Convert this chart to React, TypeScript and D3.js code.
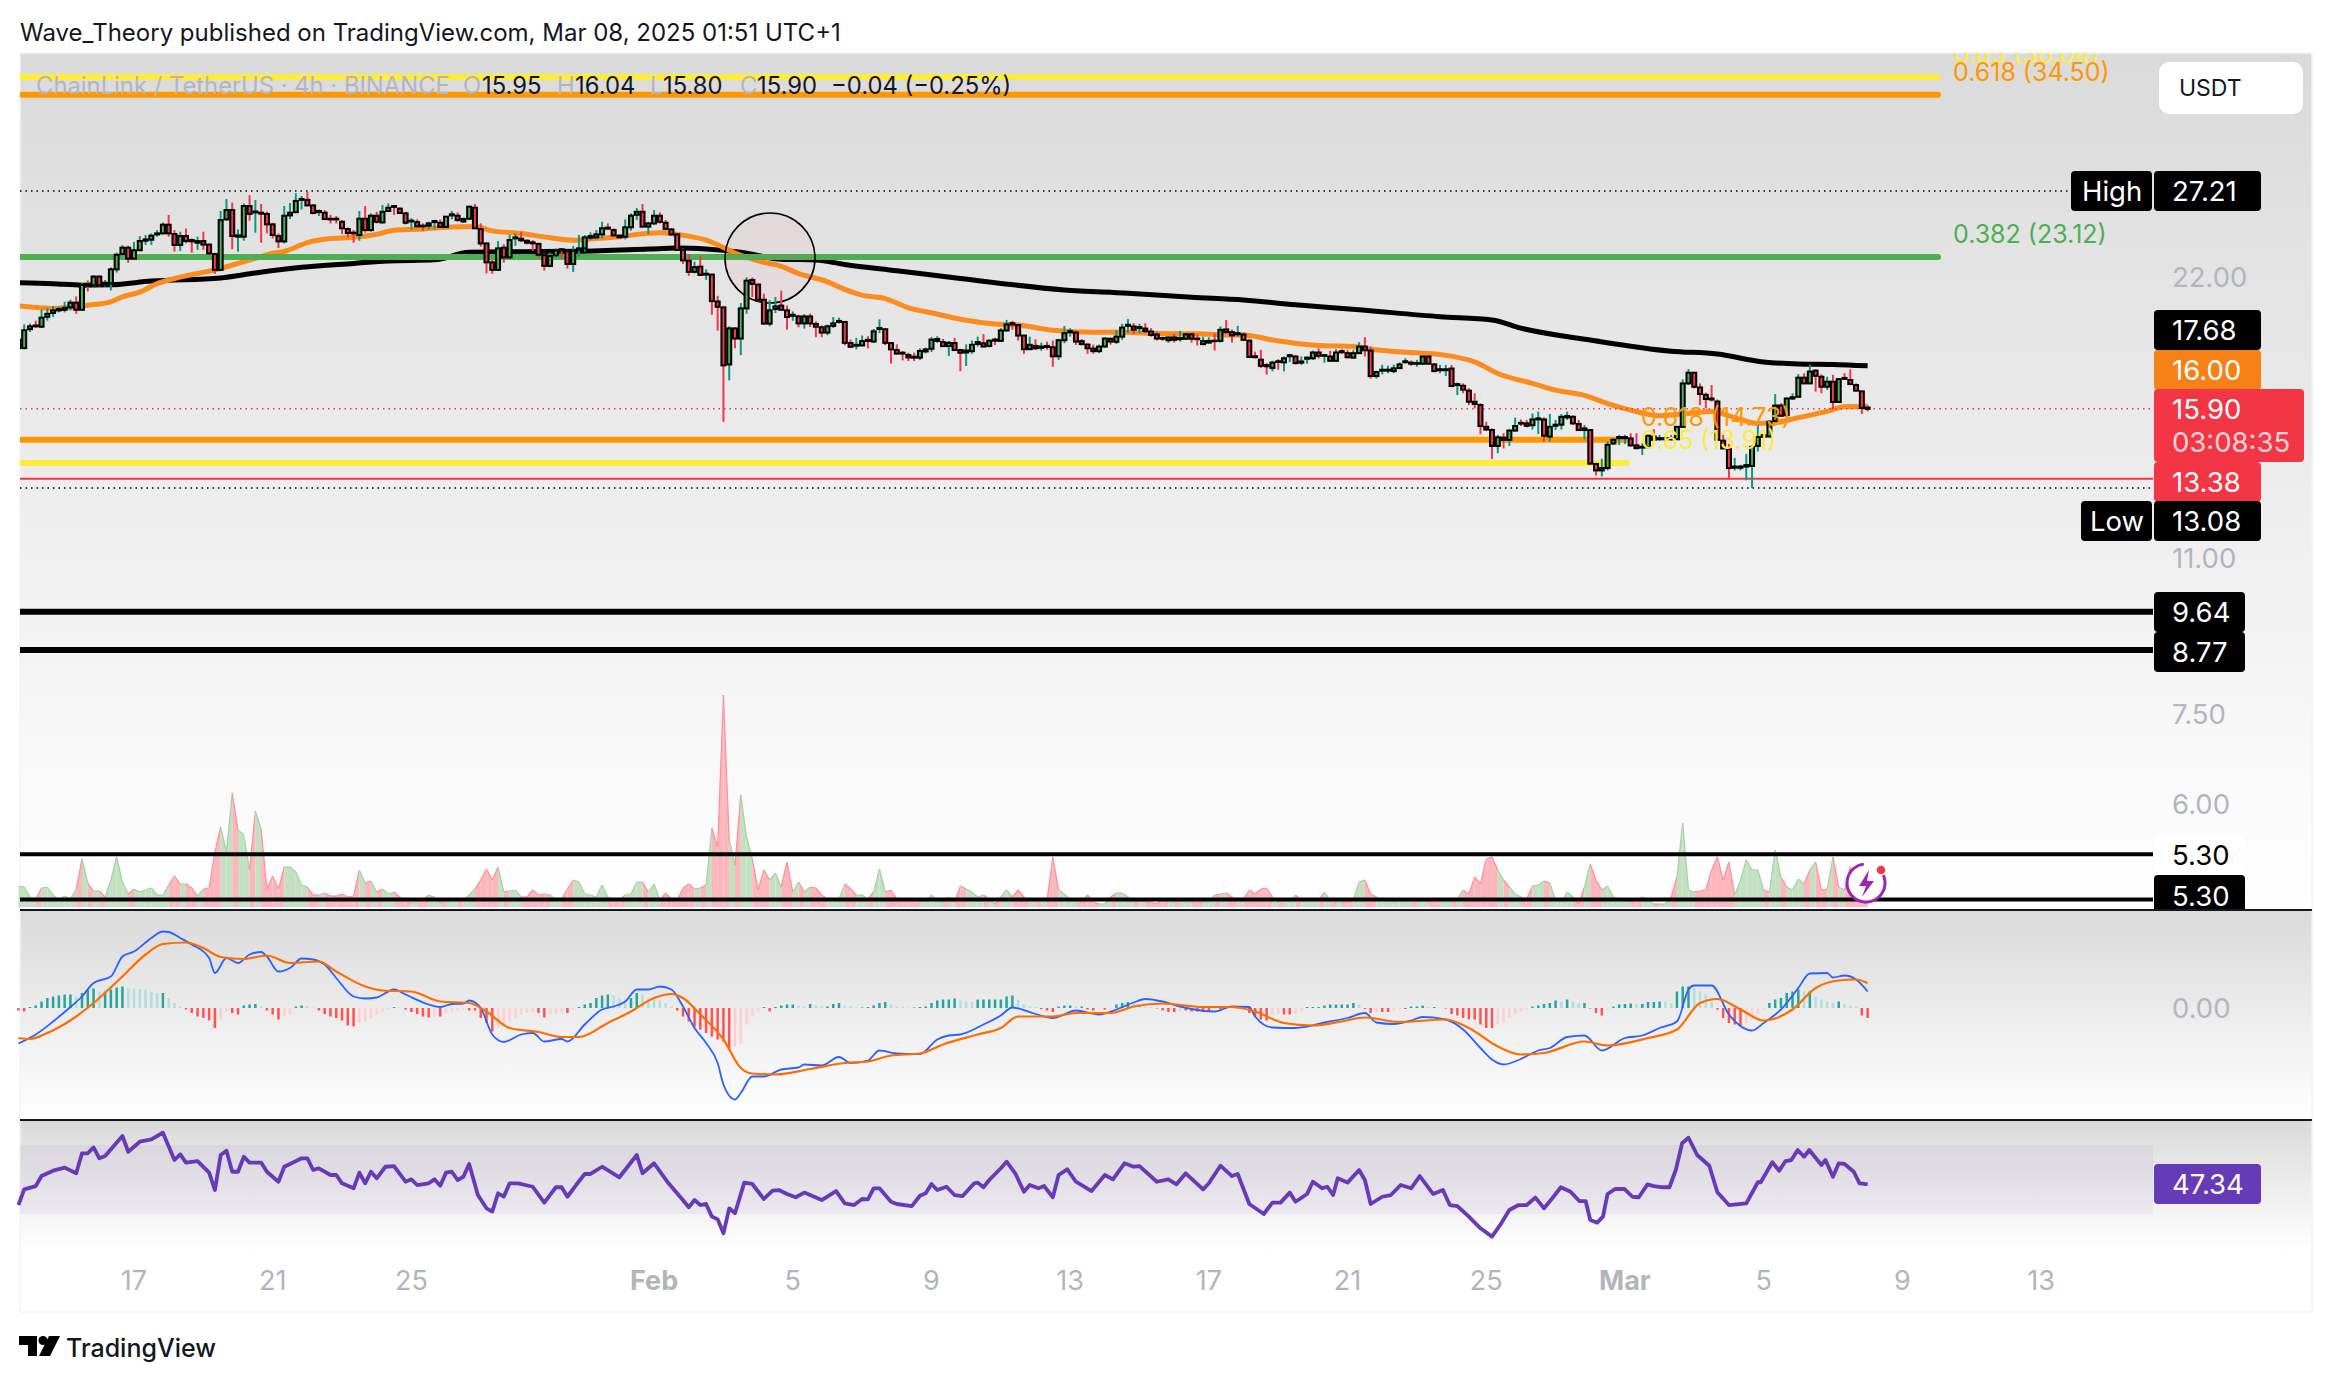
import * as d3 from "d3";

// LINK/USDT 4h, values
const START = Date.UTC(2025, 0, 13, 16); // first visible candle
const FOUR_HOURS = 4 * 3600 * 1000;

// [open, high, low, close]
const janCandles = [
  [18.47,18.94,18.41,18.86],[18.47,19.58,18.41,19.30],[19.35,19.62,19.22,19.49],[19.53,19.76,19.41,19.49],[19.47,20.30,19.41,19.91],
  [19.95,20.38,19.76,20.10],[20.14,20.50,19.94,20.27],[20.27,20.47,20.17,20.34],[20.30,20.71,20.17,20.40],[20.42,20.81,20.27,20.66],
  [20.66,20.98,20.10,20.30],[20.30,21.70,20.27,21.58],[21.62,21.82,21.24,21.53],[21.56,22.12,21.46,22.03],[22.03,22.12,21.46,21.56],
  [21.60,21.85,21.50,21.70],[21.67,22.54,21.29,22.43],[22.43,23.37,22.25,23.25],[23.29,23.81,23.23,23.66],[23.66,23.78,22.80,23.03],
  [23.03,23.99,22.99,23.51],[23.51,24.35,23.47,24.05],[24.07,24.41,23.82,24.15],[24.13,24.51,23.82,24.37],[24.45,24.71,24.31,24.51],
  [24.51,25.18,24.45,25.04],[25.04,25.65,24.31,24.51],[24.47,24.71,23.43,23.82],[23.82,24.61,23.47,24.35],[24.35,24.81,23.91,24.05],
  [24.11,24.21,23.37,24.03],[23.95,24.31,23.53,24.05],[24.05,24.61,23.53,23.84],[23.84,23.91,23.23,23.33],[23.29,23.37,22.18,22.40],
  [22.40,25.90,22.36,25.33],[25.37,26.68,25.29,25.96],[25.96,26.45,23.57,24.35],[24.31,24.75,23.43,24.39],[24.31,26.39,24.07,26.22],
  [26.22,26.93,25.29,25.71],[25.81,26.61,24.55,25.87],[25.79,26.35,23.95,25.73],[25.71,25.87,24.51,25.06],[25.06,25.16,24.21,24.41],
  [24.35,24.51,23.64,24.03],[24.03,26.22,23.91,25.60],[25.62,26.41,25.39,25.79],[25.83,27.06,25.75,26.55],[26.62,26.88,26.00,26.68],
  [26.62,27.17,26.22,26.26],[26.26,26.35,25.69,25.77],[25.83,26.00,25.58,25.90],[25.79,25.96,25.33,25.39],[25.41,25.65,25.12,25.37],
  [25.41,25.58,25.12,25.37],[25.22,25.33,24.47,24.82],[24.77,24.86,24.27,24.53],[24.55,24.71,23.95,24.51],[24.41,25.90,24.07,25.41],
  [25.41,26.22,24.55,24.71],[24.71,25.75,24.61,25.60],[25.60,25.85,25.12,25.22],[25.18,26.28,25.12,25.85],[25.90,26.39,25.83,26.11],
  [26.22,26.28,25.65,26.16],[26.05,26.13,25.71,25.77],[25.75,25.85,25.06,25.16],[25.24,25.44,24.75,25.29],[25.20,25.37,24.86,24.94],
  [24.98,25.12,24.67,24.94],[24.98,25.22,24.75,25.12],[25.20,25.33,24.75,25.27],[25.16,25.37,24.86,24.90],[24.90,25.58,24.86,25.54],
  [25.62,25.90,25.37,25.69],[25.60,25.81,25.22,25.33],[25.24,25.49,25.16,25.39],[25.41,26.22,25.33,26.18],[26.11,26.35,24.80,24.82],
  [24.77,25.12,23.72,23.91],[23.91,23.97,22.21,22.82],[22.82,22.95,22.18,22.40],[22.40,24.05,22.36,23.62],[23.66,23.86,22.80,23.10],
  [23.10,24.41,23.05,24.11],[24.21,24.51,23.76,24.27],[24.19,24.61,23.99,24.09],[24.07,24.15,23.86,23.95],[23.97,24.11,23.47,23.91],
  [23.88,23.95,23.10,23.25],[23.23,23.33,22.36,22.62],[22.62,23.37,22.55,23.18],[23.22,23.62,23.09,23.49],[23.57,23.64,23.03,23.51],
  [23.45,23.53,22.47,22.73],[22.73,23.76,22.29,23.49],[23.53,24.41,23.14,23.62],[23.62,24.41,23.43,24.27],[24.25,24.57,24.11,24.35],
  [24.27,24.71,24.15,24.45],[24.45,25.22,24.19,24.82],[24.86,25.12,24.71,24.80],[24.71,24.82,24.31,24.39],[24.37,24.45,24.21,24.27],
  [24.31,25.37,24.15,24.88],[24.88,25.75,24.67,25.60],[25.66,26.09,25.33,25.85],[25.85,26.35,24.88,24.92],[24.92,25.22,24.47,25.12],
];
const febCandles = [
  [25.12,25.96,25.02,25.60],[25.60,25.81,25.12,25.22],[25.16,25.33,24.71,24.77],[24.75,24.82,24.35,24.45],[24.45,24.51,23.49,23.53],
  [23.53,23.62,22.73,22.93],[22.91,23.29,22.07,22.29],[22.29,22.86,22.21,22.55],[22.58,23.18,22.07,22.12],[22.14,22.43,21.85,22.19],
  [22.14,22.18,20.05,20.74],[20.72,21.01,19.28,20.45],[20.42,20.47,15.40,17.70],[17.74,19.49,17.06,19.39],[19.39,19.43,18.46,18.91],
  [18.91,20.64,18.15,20.37],[20.37,21.99,20.10,21.81],[21.85,21.99,20.95,21.64],[21.60,21.67,20.72,20.81],[20.81,21.12,19.57,19.62],
  [19.62,20.78,19.49,20.27],[20.34,20.95,20.14,20.47],[20.51,21.28,20.27,20.30],[20.27,20.51,19.33,19.94],[20.00,20.22,19.76,20.05],
  [19.97,20.05,19.44,19.63],[19.63,20.08,19.38,19.97],[19.97,20.11,19.46,19.63],[19.60,19.73,18.97,19.47],[19.44,19.54,18.97,19.19],
  [19.19,19.57,19.07,19.49],[19.51,19.94,19.41,19.63],[19.70,19.91,19.62,19.75],[19.70,19.75,18.59,18.71],[18.70,18.86,18.49,18.53],
  [18.58,18.94,18.41,18.62],[18.59,19.05,18.56,18.79],[18.85,19.02,18.46,18.80],[18.77,19.36,18.71,19.25],[19.36,19.83,19.17,19.41],
  [19.35,19.38,18.60,18.71],[18.70,18.74,17.78,18.41],[18.38,18.64,18.19,18.22],[18.26,18.34,17.92,18.22],[18.16,18.26,17.89,18.05],
  [18.08,18.26,17.89,18.04],[18.04,18.46,17.93,18.34],[18.32,18.49,18.23,18.41],[18.44,18.99,18.29,18.86],[18.80,19.02,18.71,18.89],
  [18.74,18.89,18.52,18.56],[18.56,18.80,18.11,18.71],[18.70,18.94,18.34,18.38],[18.38,18.44,17.44,18.26],[18.27,18.64,17.67,18.36],
  [18.33,18.82,18.21,18.62],[18.66,19.00,18.54,18.75],[18.69,19.12,18.51,18.54],[18.57,18.88,18.50,18.81],[18.86,18.95,18.61,18.81],
  [18.80,19.40,18.77,19.29],[19.29,19.80,19.24,19.58],[19.64,19.75,19.32,19.58],[19.55,19.60,18.82,19.05],[19.05,19.08,18.21,18.42],
  [18.42,19.00,18.39,18.62],[18.57,18.88,18.39,18.46],[18.48,18.72,18.35,18.54],[18.57,18.77,18.39,18.52],[18.51,18.82,17.64,18.10],
  [18.10,18.90,17.94,18.83],[18.83,19.51,18.69,19.16],[19.21,19.40,19.00,19.26],[19.19,19.29,18.61,18.77],[18.79,18.88,18.60,18.65],
  [18.63,18.69,18.21,18.46],[18.45,18.63,18.21,18.33],[18.33,18.63,18.24,18.54],[18.54,18.96,18.50,18.91],[18.90,18.96,18.63,18.77],
  [18.76,19.32,18.66,19.00],[19.00,19.61,18.85,19.43],[19.51,19.85,19.19,19.56],[19.48,19.64,19.13,19.33],[19.40,19.61,19.16,19.45],
  [19.38,19.64,19.16,19.26],[19.24,19.40,19.00,19.08],[19.10,19.24,18.82,18.91],[18.93,19.00,18.80,18.90],[18.83,19.00,18.71,18.96],
  [18.96,19.13,18.72,18.85],[18.88,19.27,18.77,18.93],[18.90,19.16,18.85,19.11],[19.11,19.16,18.72,18.90],[18.91,19.13,18.59,18.88],
  [18.65,19.00,18.62,18.79],[18.72,18.97,18.69,18.80],[18.81,19.16,18.36,18.79],[18.80,19.48,18.72,19.32],[19.34,19.80,19.16,19.21],
  [19.21,19.34,18.72,19.06],[19.11,19.51,19.00,19.16],[19.10,19.19,18.80,18.85],[18.81,18.90,18.04,18.07],[18.10,18.31,18.00,18.06],
  [17.95,18.39,17.58,17.68],[17.71,17.80,17.30,17.66],[17.59,17.90,17.44,17.82],[17.88,17.97,17.51,17.85],[17.83,18.09,17.44,18.01],
  [18.10,18.19,17.84,18.15],[18.09,18.16,17.74,17.80],[17.82,18.09,17.72,17.87],[17.99,18.09,17.77,18.04],[18.01,18.36,17.94,18.27],
  [18.27,18.46,18.00,18.12],[18.12,18.21,17.82,18.15],[18.09,18.35,17.87,17.90],[17.90,18.42,17.85,18.27],[18.33,18.42,18.21,18.28],
  [18.24,18.39,18.00,18.06],[18.04,18.39,18.00,18.24],[18.24,18.74,18.21,18.54],[18.54,18.97,18.09,18.37],[18.36,18.54,17.13,17.24],
  [17.24,17.47,17.13,17.41],[17.47,17.73,17.31,17.51],[17.47,17.69,17.36,17.51],[17.45,17.73,17.36,17.57],[17.58,17.83,17.54,17.74],
  [17.84,18.01,17.77,17.88],[17.82,17.91,17.68,17.77],[17.77,17.94,17.64,17.80],[17.77,18.12,17.74,18.09],[18.09,18.12,17.74,17.77],
  [17.74,17.80,17.42,17.45],[17.49,17.72,17.36,17.53],[17.49,17.72,17.24,17.53],[17.56,17.72,16.79,16.82],[16.86,16.96,16.45,16.90],
  [16.83,16.93,16.52,16.67],[16.63,16.73,16.05,16.18],[16.18,16.52,15.92,16.09],[16.05,16.12,14.93,15.24],[15.21,15.40,15.06,15.11],
  [15.09,15.15,14.05,14.51],[14.51,14.91,14.25,14.82],[14.81,14.97,14.42,14.73],[14.73,15.12,14.51,15.07],[15.07,15.56,15.03,15.24],
  [15.36,15.49,15.24,15.33],[15.34,15.47,15.19,15.25],[15.27,15.72,15.11,15.49],[15.49,15.79,14.94,15.53],[15.49,15.57,14.67,14.88],
  [14.85,15.70,14.67,15.21],[15.25,15.47,15.09,15.29],[15.29,15.70,15.11,15.59],
];
const marCandles = [
  [15.57,15.79,15.47,15.62],[15.59,15.65,15.28,15.34],[15.32,15.47,15.06,15.09],[15.09,15.28,14.75,15.15],[15.09,15.12,13.85,13.89],
  [13.88,13.91,13.49,13.66],[13.66,14.06,13.46,13.74],[13.74,14.67,13.66,14.55],[14.60,14.79,14.54,14.73],[14.79,14.91,14.54,14.83],
  [14.79,14.91,14.58,14.83],[14.78,14.97,14.48,14.53],[14.53,14.97,14.39,14.43],[14.45,14.60,14.19,14.48],[14.46,14.91,14.45,14.88],
  [14.85,15.12,14.70,14.73],[14.75,14.91,14.70,14.79],[14.75,14.85,14.70,14.79],[14.79,14.91,14.70,14.75],[14.75,15.24,14.73,15.21],
  [15.21,17.10,15.19,16.93],[16.93,17.54,16.86,17.38],[17.38,17.42,16.72,16.79],[16.76,16.93,16.05,16.49],[16.46,16.55,15.92,16.29],
  [16.31,16.86,16.19,16.27],[16.19,16.27,14.70,14.73],[14.70,14.91,14.40,14.42],[14.41,14.58,13.38,13.74],[13.75,14.09,13.66,13.79],
  [13.75,13.85,13.66,13.79],[13.79,14.23,13.33,13.84],[13.81,14.51,13.08,14.48],[14.51,15.34,14.31,14.83],[14.90,14.95,14.79,14.84],
  [14.85,15.47,14.83,15.40],[15.43,16.49,15.40,16.03],[16.03,16.12,15.59,15.63],[15.65,16.36,15.57,16.31],[16.31,16.52,16.25,16.36],
  [16.38,17.32,16.36,17.17],[17.17,17.36,16.90,16.93],[16.93,17.72,16.90,17.43],
];
const latestCandles = [
  [17.47,17.53,16.59,17.25],[17.21,17.31,16.52,16.79],[16.79,17.21,16.66,17.00],[17.00,17.29,15.88,16.17],[16.17,17.14,16.14,17.11],
  [17.16,17.36,17.08,17.12],[17.07,17.53,16.87,16.90],[16.86,16.93,16.60,16.63],[16.60,16.63,15.70,15.93],[15.95,16.04,15.80,15.90],
];

// volume in 10k LINK
const volumes = [
  21,20,10,8,19,20,12,7,11,8, 18,48,24,16,16,10,27,50,25,13, 18,15,17,19,12,12,22,31,23,23,
  19,11,18,19,55,80,55,114,77,72, 37,96,78,18,31,18,40,40,35,22, 20,12,12,14,11,11,13,10,11,37,
  24,26,15,18,13,15,10,7,4,6, 7,12,10,4,8,7,7,7,12,18, 27,38,27,40,15,16,17,10,10,17,
  12,13,12,7,8,18,27,25,13,12, 10,22,10,7,7,12,13,25,25,15, 23,7,14,8,7,19,23,18,19,22,
  79,60,212,67,42,112,70,48,17,37, 27,34,20,45,15,25,15,20,19,12, 8,8,8,23,18,12,12,8,15,38,
  15,17,8,7,7,7,6,5,12,5, 5,10,5,21,18,15,10,12,8,3, 10,17,10,17,10,7,7,8,7,50,
  17,13,7,7,5,12,5,3,3,10, 14,14,10,5,7,5,5,3,8,5, 5,7,5,5,5,5,5,12,13,14,
  10,7,8,17,13,18,19,10,5,7, 5,12,7,7,8,7,15,7,5,5, 5,7,25,27,13,10,7,7,5,7,
  5,8,5,7,5,8,8,5,5,8, 17,13,30,23,48,50,37,27,20,13, 10,8,21,22,26,24,7,5,15,10,
  3,20,43,27,17,21,10,8,6,5, 7,10,7,3,3,3,10,30,84,17, 15,16,17,37,50,27,45,12,27,47,
  37,37,17,15,57,30,20,17,28,23, 37,45,17,18,50,20,17,40,13,5, 3,
];

// [candle index, value]
const fastMa = [
  [0,20.5],[6,20.37],[12,20.53],[16,20.7],[18,20.96],[21,21.2],[24,21.65],[28,22],[34,22.4],[38,22.76],[41,23.05],[44,23.34],[46,23.44],[50,23.96],
  [54,24.2],[58,24.27],[62,24.45],[65,24.7],[69,24.76],[75,24.9],[79,24.93],[82,24.66],[87,24.5],[91,24.3],[96,24.1],[100,24.2],[104,24.3],[107,24.45],
  [111,24.55],[115,24.4],[119,24.1],[121,23.83],[124,23.35],[128,22.9],[132,22.6],[135,22.2],[140,21.75],[143,21.35],[146,21.05],[150,20.87],[154,20.4],
  [158,20.15],[163,19.83],[169,19.6],[173,19.55],[179,19.3],[186,19.2],[191,19.2],[197,19.15],[204,19.13],[209,19.08],[212,19.08],[217,18.84],[222,18.66],
  [226,18.58],[231,18.54],[234,18.42],[239,18.3],[246,18.18],[252,17.85],[256,17.35],[262,16.93],[266,16.65],[271,16.44],[275,16.11],[279,15.85],[284,15.63],
  [289,15.72],[293,15.8],[297,15.56],[301,15.34],[304,15.37],[308,15.56],[313,15.8],[316,15.98],[320,16.0],
];
const slowMa = [
  [0,21.7],[6,21.65],[11,21.57],[16,21.59],[23,21.79],[35,21.96],[41,22.23],[49,22.54],[58,22.76],[64,22.9],[72,22.96],[78,23.4],[88,23.43],[97,23.45],
  [109,23.58],[114,23.64],[119,23.58],[125,23.39],[132,23],[138,22.95],[143,22.7],[152,22.35],[163,21.93],[181,21.32],[192,21.15],[203,20.94],[212,20.8],
  [221,20.55],[232,20.3],[246,19.96],[255,19.8],[260,19.4],[272,18.84],[286,18.33],[294,18.2],[302,17.85],[308,17.76],[314,17.74],[320,17.68],
];
const macdLine = [
  [0,-.71],[3,-.53],[6,-.27],[9,.02],[11,.23],[13,.5],[16,.63],[18,1.03],[20,1.13],[23,1.4],[25,1.53],[26,1.52],[28,1.4],[30,1.27],[33,1],[34,.7],[36,1],[38,.9],
  [40,1.07],[42,1.12],[43,1.03],[45,.73],[47,.8],[49,.99],[51,.97],[53,.87],[55,.6],[58,.23],[60,.19],[62,.21],[65,.37],[67,.27],[71,.07],[73,.02],[75,.08],
  [77,.09],[78,.15],[80,0],[82,-.53],[84,-.68],[87,-.53],[89,-.5],[91,-.67],[94,-.62],[95,-.67],[98,-.33],[101,-.03],[103,.03],[105,.13],[107,.37],[109,.37],
  [111,.43],[113,.37],[115,.03],[117,-.4],[119,-.7],[121,-1.1],[122,-1.53],[124,-1.83],[125,-1.7],[127,-1.37],[129,-1.37],[132,-1.23],[135,-1.19],[136,-1.13],
  [139,-1.15],[142,-.98],[144,-1.1],[147,-1.05],[149,-.85],[152,-.91],[156,-.92],[159,-.63],[161,-.55],[163,-.53],[167,-.33],[170,-.15],[172,.01],[176,-.12],
  [179,-.2],[183,-.05],[187,-.13],[190,-.03],[193,.11],[195,.18],[198,.13],[201,.03],[207,-.07],[210,.03],[213,.02],[214,-.17],[217,-.39],[221,-.4],[223,-.37],
  [226,-.29],[230,-.2],[233,-.1],[235,-.29],[238,-.32],[241,-.25],[243,-.18],[247,-.23],[250,-.43],[253,-.8],[255,-1.03],[257,-1.13],[260,-1.02],[263,-.85],
  [265,-.8],[268,-.58],[271,-.55],[274,-.85],[278,-.6],[281,-.55],[284,-.4],[287,-.27],[289,.37],[290,.45],[293,.45],[296,-.13],[300,-.45],[302,-.3],[305,-.03],
  [308,.4],[310,.69],[313,.7],[314,.61],[316,.65],[318,.57],[320,.33],
];
const signalLine = [
  [0,-.6],[2,-.62],[5,-.5],[10,-.17],[13,.1],[18,.63],[22,1.07],[25,1.28],[29,1.31],[32,1.2],[35,1.02],[39,.98],[43,1.05],[47,.9],[52,.93],[55,.73],[60,.43],
  [63,.35],[68,.33],[73,.13],[78,.1],[81,-.07],[85,-.4],[90,-.48],[94,-.58],[97,-.58],[102,-.3],[106,-.07],[110,.2],[113,.28],[115,.2],[118,-.13],[122,-.63],
  [125,-1.2],[127,-1.31],[131,-1.33],[137,-1.22],[143,-1.1],[147,-1.07],[151,-.95],[156,-.91],[160,-.73],[166,-.53],[170,-.4],[173,-.17],[179,-.17],[183,-.1],
  [189,-.1],[193,.03],[198,.09],[205,.02],[210,.02],[214,-.07],[219,-.3],[224,-.35],[229,-.27],[233,-.19],[239,-.28],[247,-.23],[251,-.4],[256,-.77],[260,-.93],
  [264,-.9],[271,-.67],[275,-.75],[282,-.6],[287,-.43],[291,.1],[294,.18],[298,-.03],[302,-.25],[307,-.03],[311,.4],[315,.55],[318,.57],[320,.5],
];
const macdHist = [
  -.05,-.07,.02,.05,.13,.2,.23,.25,.27,.27,.23,.3,.37,.39,.33,.33,.37,.41,.43,.4,.39,.38,.37,.33,.3,.3,.2,.1,.03,-.03,-.1,-.17,-.2,-.25,-.4,-.23,-.07,-.1,-.13,
  .05,.07,.08,.03,-.05,-.13,-.23,-.17,-.13,.03,.05,.04,.01,-.05,-.12,-.17,-.2,-.25,-.35,-.37,-.3,-.27,-.2,-.13,-.08,-.03,.02,.01,-.03,-.08,-.12,-.17,-.19,-.17,-.17,
  -.1,-.07,-.05,-.03,-.05,-.05,-.2,-.3,-.47,-.4,-.37,-.27,-.2,-.13,-.1,-.08,-.1,-.19,-.13,-.12,-.1,-.1,-.03,.02,.07,.1,.2,.25,.27,.25,.2,.17,.2,.3,.27,.2,.17,.15,.1,
  .03,-.05,-.17,-.27,-.37,-.43,-.5,-.57,-.63,-.67,-.83,-.77,-.73,-.33,-.17,-.07,.02,-.07,.02,.05,.07,.07,.05,.03,.08,.05,.03,.03,.08,.1,.05,.03,.01,.01,.02,.05,.1,.12,
  .07,.03,.02,.01,.01,.02,.03,.1,.15,.17,.17,.19,.15,.13,.12,.17,.17,.17,.17,.17,
  .23,.25,.17,.08,.04,.02,-.02,-.05,-.08,.03,.05,.05,.03,.03,-.03,-.05,-.03,-.03,-.02,.07,.1,.12,.08,.05,.03,.02,-.01,-.05,-.08,-.08,-.05,-.05,-.07,-.07,-.08,-.08,
  -.02,-.03,-.02,0,-.01,-.02,-.1,-.17,-.23,-.25,-.13,-.12,-.13,-.13,-.12,-.07,.02,.02,.02,.05,.07,.07,.07,.07,.1,.07,-.02,-.1,-.08,-.08,-.08,-.05,-.02,-.02,.03,.03,.05,
  .02,.02,.01,-.01,-.12,-.15,-.2,-.23,-.23,-.33,-.4,-.4,-.33,-.3,-.2,-.13,-.07,-.02,.03,.05,.08,.1,.15,.13,.17,.13,.1,.1,-.01,-.1,-.15,-.03,.03,.07,.08,.09,.08,.08,.12,
  .12,.13,.12,.1,.33,.43,.43,.4,.33,.27,.13,-.03,-.2,-.3,-.33,-.37,-.3,-.23,-.13,-.03,.1,.17,.2,.3,.33,.37,.33,.33,.23,.17,.13,.1,.13,.08,.05,.03,-.15,-.2,
];
const rsiLine = [
  [0,35.2],[1,44.3],[3,46.2],[4,52],[6,55.1],[8,56.9],[10,53.6],[11,65.2],[12,65.2],[13,68.6],[14,62.3],[15,63.6],[18,75.2],[19,66.1],[21,71.9],[23,73.3],[25,77.1],
  [27,61.3],[28,64.6],[29,59.8],[31,60.7],[33,54],[34,43.9],[35,64.2],[36,66.7],[37,54.5],[38,54.5],[39,63.2],[40,59.8],[42,59.8],[43,54.5],[45,48.7],[46,57.4],[47,59],
  [49,62.3],[50,62.3],[51,55.5],[52,56.5],[54,52.6],[55,52.6],[56,47.8],[58,44.9],[59,54],[60,47.8],[61,54.5],[62,50.7],[63.5,57.4],[65,57.8],[67,48.7],[68,50.1],[69,46.8],
  [71,47.8],[72,50.1],[73,46.4],[74,54],[75,54.5],[76,49.7],[77,51.6],[78,59],[79.5,41],[81,33.3],[82,31.4],[83,42],[84,40.1],[85,47.8],[86.5,47.8],[89,45.8],[91,36.6],[93,45.5],
  [94,45.5],[95,40],[96.5,46.8],[98,53.2],[99,53.2],[101,57.4],[104,51.3],[107,64.2],[108,53.6],[110,59.4],[112.5,47.8],[114.5,40],[116,33.9],[117,38.1],[118,35.2],[119,35.8],
  [120,28.5],[121,26.9],[122,18.8],[123,33.3],[124,30.4],[125.6,48.2],[127,47.4],[129,38.7],[130.5,43.5],[131.6,43.9],[133,41.6],[134.5,39.7],[136,42.4],[139,38.1],[141.5,43.3],
  [143,36.2],[144.6,35.2],[146,38.7],[147,38.5],[148,44.9],[149,44.9],[151,37.1],[152,35.8],[154.6,34.6],[156,40.6],[157,42],[158,47.4],[159,43.9],[160.6,45.8],[162,41],[163.4,40.4],
  [165.4,47.8],[166,48.2],[167,45.5],[168,49.7],[170,56.5],[171,60.3],[172.5,53.6],[174,42.9],[175,46.8],[176.5,44.9],[177.5,46.2],[179,39.7],[180,52.6],[181.5,55.9],[183,48.7],
  [185.7,43.3],[188,52.6],[189.4,50.1],[191.4,59.4],[193,57.4],[194,57.8],[197,48.7],[199,50.1],[200.4,47.2],[202,53.6],[205,44.3],[206,47.8],[208,58],[210,52],[211,53.2],[213,35.8],
  [215.5,30],[217,36.6],[218.4,36.6],[220,42.4],[221,37.1],[223,41.6],[224,48.7],[225.6,44.9],[226.5,45.8],[227.5,41],[228.3,50.7],[230,48.2],[232,55.5],[233,49.7],[234,35.8],[236,40],
  [237.5,41],[239.2,46.8],[241,44.9],[242.5,52],[244.8,41.6],[246.5,43.9],[247.7,35.2],[249,34.6],[251,28.5],[253,21.7],[255,16.9],[256.6,24.6],[258,32.3],[259.6,35.2],[261,35.2],
  [262.5,39.5],[264,33.3],[265.4,39],[266.9,45.5],[268.6,42.9],[270.1,37.5],[271.2,37.5],[272,26.5],[273.2,25],[274.2,28.5],[275,41.6],[276.3,44.5],[277.9,44.5],[279.3,40],[280.4,39.7],
  [281.9,47.2],[283,46.2],[284.5,45.5],[285.7,45.5],[286.8,55.5],[287.9,71],[289,74.2],[290.5,64.2],[292.6,58],[294,42.6],[296,35.2],[299,36.2],[301,48.4],[301.5,48.4],[303.5,60],
  [304.7,55.1],[305.8,60.7],[306.8,61.3],[307.9,67.1],[309,63.2],[309.9,67.1],[312,58.4],[312.7,61.3],[314,51.6],[315,59.4],[316,59],[317.6,54.5],[318.6,47.8],[319.5,47.4],[320,47.34],
];

const fibLevels = [
  { ratio: "0.65", price: 36.04, color: "#ffeb3b", end: 1938 },
  { ratio: "0.618", price: 34.5, color: "#ff9800", end: 1938 },
  { ratio: "0.382", price: 23.12, color: "#4caf50", end: 1938 },
  { ratio: "0.618", price: 14.73, color: "#ff9800", end: 1627 },
  { ratio: "0.65", price: 13.91, color: "#ffeb3b", end: 1627 },
];
const levelLines = [9.64, 8.77];
const volumeLevels = [5.3, 4.74];
const axisPrices = [22, 11, 7.5, 6];
const tickDates = [[0,17],[0,21],[0,25],[1,1],[1,5],[1,9],[1,13],[1,17],[1,21],[1,25],[2,1],[2,5],[2,9],[2,13]];
const tickLabels = ["17","21","25","Feb","5","9","13","17","21","25","Mar","5","9","13"];

const candles = [...janCandles, ...febCandles, ...marCandles, ...latestCandles];

const L = 20;
const R = 2312;
const AXIS_X = 2153;
const FONT = "Inter, 'Noto Sans', sans-serif";
const TAG_FONT = 27.5;

const timeAt = (i: number) => new Date(START + i * FOUR_HOURS);
const x = d3.scaleUtc().domain([Date.UTC(2025, 0, 17), Date.UTC(2025, 2, 13)]).range([134, 2041]);
const cx = (i: number) => x(timeAt(i));
const price = d3.scaleLog().domain([27.21, 13.08]).range([191, 488]);
const volY = d3.scaleLinear().domain([0, 212]).range([907, 695]);
const macdY = d3.scaleLinear().domain([0, 1]).range([1008, 958]);
const rsiY = d3.scaleLinear().domain([30, 70]).range([1214, 1145]);

function lineOf(y: (v: number) => number, curve: d3.CurveFactory = d3.curveLinear) {
  return d3
    .line<number[]>()
    .x((d) => cx(d[0]))
    .y((d) => y(d[1]))
    .curve(curve);
}

// Price tag on the axis
function Tag({ y, h = 40, x0 = AXIS_X + 1, w = 107, fill = "#000", color = "#fff", text, tx = 2172 }: any) {
  return (
    <g>
      <rect x={x0} y={y} width={w} height={h} rx={4} fill={fill} />
      <text x={tx} y={y + h / 2} fill={color} fontSize={TAG_FONT} dominantBaseline="central">
        {text}
      </text>
    </g>
  );
}

function histColor(i: number) {
  const v = macdHist[i];
  const prev = i > 0 ? macdHist[i - 1] : v;
  if (v >= 0) return v >= prev ? "#26a69a" : "#b2dfdb";
  return v <= prev ? "#ff5252" : "#ffcdd2";
}

export default function App() {
  const volArea = d3.area<number>().x((i) => cx(i)).y0(907).y1((i) => volY(volumes[i]));
  const volTop = d3.line<number>().x((i) => cx(i)).y((i) => volY(volumes[i]));

  return (
    <svg width={2332} height={1382} style={{ position: "absolute", left: 0, top: 0, background: "#fff" }} fontFamily={FONT}>
      <defs>
        <linearGradient id="paneBg" x1="0" y1="0" x2="0" y2="1">
          <stop offset="0" stopColor="#dadada" />
          <stop offset="1" stopColor="#ffffff" />
        </linearGradient>
        <clipPath id="mainClip">
          <rect x={L} y={53} width={AXIS_X - L} height={857} />
        </clipPath>
        <clipPath id="paneClip">
          <rect x={L} y={53} width={R - L} height={857} />
        </clipPath>
      </defs>

      <text x={20} y={32} fontSize={24} fill="#131722" dominantBaseline="central">
        Wave_Theory published on TradingView.com, Mar 08, 2025 01:51 UTC+1
      </text>

      {/* pane backgrounds */}
      <rect x={L} y={53} width={R - L} height={857} fill="url(#paneBg)" />
      <rect x={L} y={911} width={R - L} height={209} fill="url(#paneBg)" />
      <rect x={L} y={1121} width={R - L} height={130} fill="url(#paneBg)" />
      <rect x={L} y={53} width={R - L} height={1259} fill="none" stroke="#f0f3fa" strokeWidth={1.5} />

      {/* volume */}
      {volumes.slice(0, -1).map((_, i) => {
        const up = candles[i][3] >= candles[i][0];
        return (
          <g key={i}>
            <path d={volArea([i, i + 1]) ?? ""} fill={up ? "#c3e0c0" : "#fcb6bc"} />
            <path d={volTop([i, i + 1]) ?? ""} fill="none" stroke={up ? "#a5d2a3" : "#f8929c"} strokeWidth={1.2} />
          </g>
        );
      })}

      <g clipPath="url(#mainClip)">
        {/* moving averages */}
        <path d={lineOf(price, d3.curveMonotoneX)(slowMa) ?? ""} fill="none" stroke="#000" strokeWidth={5} />
        <path d={lineOf(price, d3.curveMonotoneX)(fastMa) ?? ""} fill="none" stroke="#fb8c1d" strokeWidth={5} />

        {/* fib levels */}
        {fibLevels.map((f) => (
          <line key={f.price} x1={L} x2={f.end} y1={price(f.price)} y2={price(f.price)} stroke={f.color} strokeWidth={6} strokeLinecap="round" />
        ))}

        <ellipse cx={770} cy={258} rx={45} ry={45} fill="#f23645" fillOpacity={0.05} stroke="#000" strokeWidth={1.6} />

        {/* dotted price lines */}
        <line x1={L} x2={2071} y1={price(27.21)} y2={price(27.21)} stroke="#000" strokeWidth={1.5} strokeDasharray="1.5 4" />
        <line x1={L} x2={AXIS_X} y1={price(15.9)} y2={price(15.9)} stroke="#f23645" strokeWidth={1.5} strokeDasharray="1.5 4" />
        <line x1={L} x2={AXIS_X} y1={price(13.08)} y2={price(13.08)} stroke="#000" strokeWidth={1.5} strokeDasharray="1.5 4" />
        <line x1={L} x2={AXIS_X} y1={price(13.38)} y2={price(13.38)} stroke="#f23645" strokeWidth={2} />

        {/* candles */}
        {candles.map((c, i) => {
          const [o, h, l, cl] = c;
          const up = cl >= o;
          const top = price(Math.max(o, cl));
          const bottom = price(Math.min(o, cl));
          return (
            <g key={i}>
              <line x1={cx(i)} x2={cx(i)} y1={price(h)} y2={price(l)} stroke={up ? "#089981" : "#f23645"} strokeWidth={2} />
              <rect x={cx(i) - 2} y={top} width={4} height={Math.max(bottom - top, 0.5)} fill={up ? "#4caf50" : "#f23645"} stroke="#000" strokeWidth={2} />
            </g>
          );
        })}

        {/* fib labels */}
        {fibLevels.map((f) => (
          <text key={f.price} x={f.end === 1938 ? 1953 : 1641} y={price(f.price) - 23} fontSize={25} fill={f.color} dominantBaseline="central">
            {`${f.ratio} (${f.price.toFixed(2)})`}
          </text>
        ))}

        {levelLines.map((v) => (
          <line key={v} x1={L} x2={AXIS_X} y1={price(v)} y2={price(v)} stroke="#000" strokeWidth={6} />
        ))}
      </g>

      {volumeLevels.map((v) => (
        <line key={v} x1={L} x2={AXIS_X} y1={price(v)} y2={price(v)} stroke="#000" strokeWidth={4} />
      ))}

      {/* legend */}
      <g fontSize={23.8} dominantBaseline="central">
        <text x={36} y={85} fill="#b2b5be">ChainLink / TetherUS · 4h · BINANCE</text>
        <text x={463} y={85} fill="#b2b5be">O</text>
        <text x={482} y={85} fill="#131722">15.95</text>
        <text x={557} y={85} fill="#b2b5be">H</text>
        <text x={575} y={85} fill="#131722">16.04</text>
        <text x={650} y={85} fill="#b2b5be">L</text>
        <text x={663} y={85} fill="#131722">15.80</text>
        <text x={740} y={85} fill="#b2b5be">C</text>
        <text x={757} y={85} fill="#131722">15.90</text>
        <text x={831} y={85} fill="#131722">−0.04 (−0.25%)</text>
      </g>

      {/* price axis */}
      <rect x={2159} y={62} width={144} height={52} rx={10} fill="#fff" />
      <text x={2179} y={88} fontSize={23} fill="#131722" dominantBaseline="central">USDT</text>
      <g fontSize={TAG_FONT} fill="#b2b5be" dominantBaseline="central">
        {axisPrices.map((v) => (
          <text key={v} x={2172} y={price(v)}>{v.toFixed(2)}</text>
        ))}
        <text x={2172} y={macdY(0)}>0.00</text>
      </g>
      <Tag y={171} x0={2071} w={81} text="High" tx={2082} />
      <Tag y={171} text="27.21" />
      <Tag y={310} text="17.68" />
      <Tag y={350} fill="#f68116" text="16.00" />
      <rect x={AXIS_X + 1} y={389} width={150} height={73} rx={4} fill="#f23645" />
      <text x={2172} y={409} fill="#fff" fontSize={TAG_FONT} dominantBaseline="central">15.90</text>
      <text x={2172} y={442} fill="#fff" fillOpacity={0.8} fontSize={TAG_FONT} dominantBaseline="central">03:08:35</text>
      <Tag y={462} fill="#f23645" text="13.38" />
      <Tag y={501} x0={2081} w={71} text="Low" tx={2090} />
      <Tag y={501} text="13.08" />
      <Tag y={592} w={91} text="9.64" />
      <Tag y={632} w={91} text="8.77" />
      <Tag y={835} w={91} fill="#fff" color="#000" text="5.30" />
      <g clipPath="url(#paneClip)">
        <Tag y={875} h={42} w={91} text="5.30" />
      </g>

      {/* lightning badge */}
      <circle cx={1866} cy={883} r={19} fill="#fff" stroke="#9c27b0" strokeWidth={3} strokeDasharray="100 20" transform="rotate(-40 1866 883)" />
      <path d="M1869,870 L1859,886 H1866 L1862,897 L1874,881 H1867 Z" fill="#9c27b0" />
      <circle cx={1881} cy={870} r={5} fill="#f23645" stroke="#fff" strokeWidth={1.5} />

      {/* pane separators */}
      <line x1={L} x2={R} y1={910} y2={910} stroke="#131722" strokeWidth={2} />
      <line x1={L} x2={R} y1={1120} y2={1120} stroke="#131722" strokeWidth={2} />

      {/* MACD */}
      {macdHist.map((v, i) => (
        <rect key={i} x={cx(i) - 1.25} width={2.5} y={Math.min(macdY(v), macdY(0))} height={Math.abs(macdY(v) - macdY(0))} fill={histColor(i)} />
      ))}
      <path d={lineOf(macdY, d3.curveMonotoneX)(macdLine) ?? ""} fill="none" stroke="#2962ff" strokeWidth={1.8} />
      <path d={lineOf(macdY, d3.curveMonotoneX)(signalLine) ?? ""} fill="none" stroke="#ff6d00" strokeWidth={2.2} />

      {/* RSI */}
      <rect x={L} y={rsiY(70)} width={AXIS_X - L} height={rsiY(30) - rsiY(70)} fill="#7e57c2" fillOpacity={0.08} />
      <path d={lineOf(rsiY)(rsiLine) ?? ""} fill="none" stroke="#673ab7" strokeWidth={3.8} strokeLinejoin="round" />
      <rect x={AXIS_X + 1} y={1164} width={107} height={40} rx={4} fill="#673ab7" />
      <text x={2172} y={1184} fontSize={TAG_FONT} fill="#fff" dominantBaseline="central">47.34</text>

      {/* time axis */}
      {tickDates.map(([m, d], i) => (
        <text
          key={i}
          x={x(Date.UTC(2025, m, d))}
          y={1280}
          textAnchor="middle"
          fontSize={27}
          fontWeight={d === 1 ? 700 : 400}
          fill="#b2b5be"
          dominantBaseline="central"
        >
          {tickLabels[i]}
        </text>
      ))}

      {/* brand */}
      <path d="M19,1336 H37 V1356 H28 V1345 H19 Z M60,1336 L50,1356 H39 L49,1336 Z" fill="#000" />
      <circle cx={43} cy={1340.5} r={4.5} fill="#000" />
      <text x={66} y={1348} fontSize={25} fontWeight={500} fill="#131722" dominantBaseline="central">TradingView</text>
    </svg>
  );
}
